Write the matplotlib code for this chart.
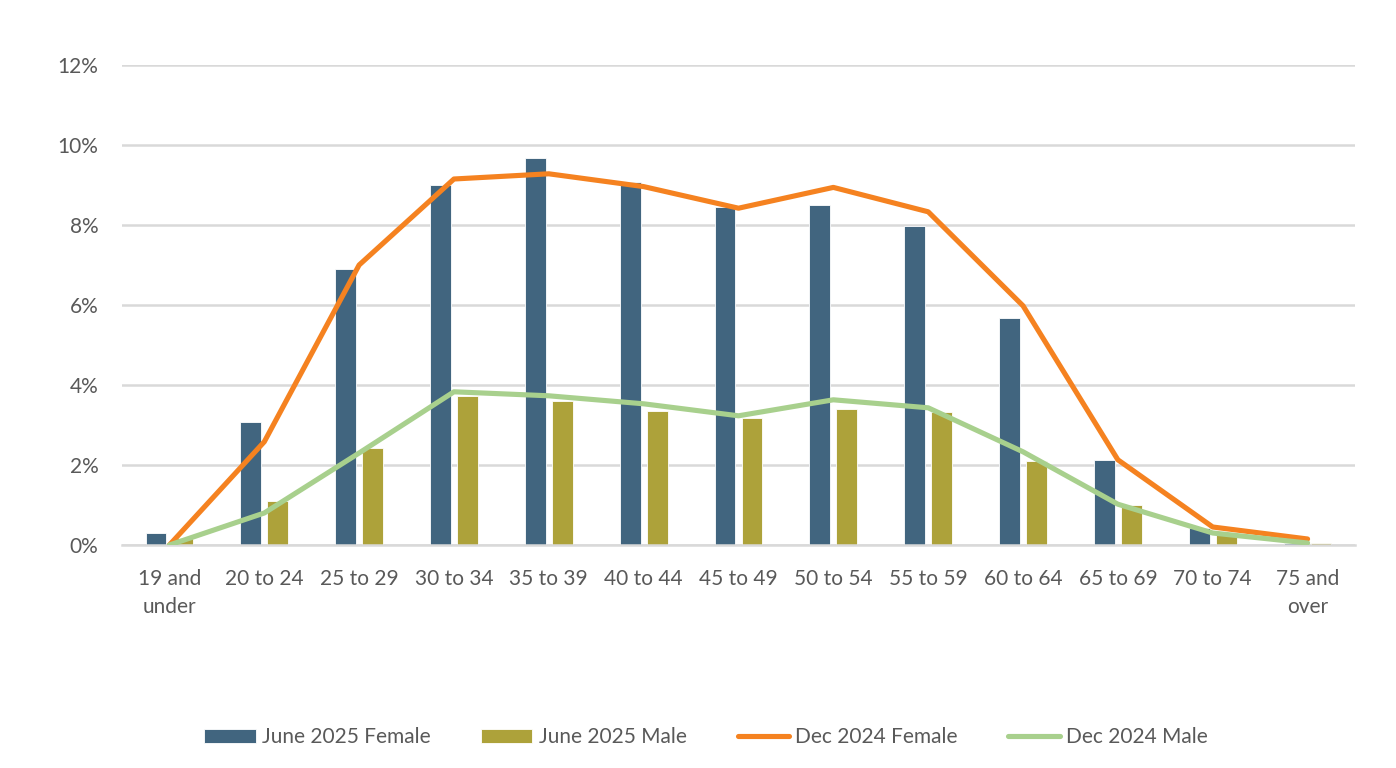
import matplotlib
matplotlib.use("Agg")
import matplotlib.pyplot as plt
import numpy as np
from matplotlib.ticker import FuncFormatter

categories = ["19 and\nunder", "20 to 24", "25 to 29", "30 to 34", "35 to 39", "40 to 44",
              "45 to 49", "50 to 54", "55 to 59", "60 to 64", "65 to 69", "70 to 74", "75 and\nover"]
june_female = [0.30, 3.08, 6.90, 9.00, 9.67, 9.07, 8.44, 8.50, 7.98, 5.68, 2.13, 0.42, 0.04]
june_male   = [0.17, 1.10, 2.43, 3.72, 3.60, 3.35, 3.18, 3.40, 3.33, 2.10, 1.00, 0.25, 0.05]
dec_female  = [0.00, 2.58, 7.00, 9.15, 9.28, 8.96, 8.42, 8.94, 8.33, 5.98, 2.13, 0.45, 0.15]
dec_male    = [0.00, 0.80, 2.30, 3.83, 3.73, 3.53, 3.23, 3.63, 3.43, 2.33, 1.02, 0.30, 0.05]
yticks = [0, 2, 4, 6, 8, 10, 12]

C_FEM = "#41657f"
C_MALE = "#ada23a"
C_ORANGE = "#f58220"
C_GREEN = "#a8d08d"
TXT = "#595959"

plt.rcParams['font.family'] = ['Lato', 'DejaVu Sans']

fig = plt.figure(figsize=(13.96, 7.68), dpi=100)
ax = fig.add_axes([122/1396, 1-545/768, (1355-122)/1396, (545-65)/768])

x = np.arange(len(categories))
w = 0.22
off = 0.142
b1 = ax.bar(x - off, june_female, width=w, color=C_FEM, edgecolor="white", linewidth=0.6,
            label="June 2025 Female", zorder=2)
b2 = ax.bar(x + off, june_male, width=w, color=C_MALE, edgecolor="white", linewidth=0.6,
            label="June 2025 Male", zorder=2)
l1, = ax.plot(x, dec_female, color=C_ORANGE, linewidth=3.7, label="Dec 2024 Female",
              zorder=3, solid_capstyle='round', solid_joinstyle='round')
l2, = ax.plot(x, dec_male, color=C_GREEN, linewidth=3.7, label="Dec 2024 Male",
              zorder=3, solid_capstyle='round', solid_joinstyle='round')

ax.set_xlim(-0.5, len(categories) - 0.5)
ax.set_ylim(0, 12)
ax.set_yticks(yticks)
ax.yaxis.set_major_formatter(FuncFormatter(lambda v, p: f"{v:.0f}%"))
ax.set_xticks(x)
ax.set_xticklabels(categories, linespacing=1.55)

ax.grid(axis='y', color="#d9d9d9", linewidth=1.8, zorder=0)
ax.set_axisbelow(True)
for s in ["top", "right", "left"]:
    ax.spines[s].set_visible(False)
ax.spines["bottom"].set_color("#d9d9d9")
ax.spines["bottom"].set_linewidth(1.8)

ax.tick_params(axis='both', length=0, labelsize=15, labelcolor=TXT)
ax.tick_params(axis='y', pad=17)
ax.tick_params(axis='x', pad=17)

leg = fig.legend(handles=[b1, b2, l1, l2],
                 labels=["June 2025 Female", "June 2025 Male", "Dec 2024 Female", "Dec 2024 Male"],
                 loc='center', bbox_to_anchor=(706/1396, 1-737/768), ncol=4,
                 frameon=False, fontsize=15, handlelength=2.45, handleheight=0.67,
                 handletextpad=0.3, columnspacing=2.45)
for t in leg.get_texts():
    t.set_color(TXT)

fig.savefig("out.png", dpi=100)
